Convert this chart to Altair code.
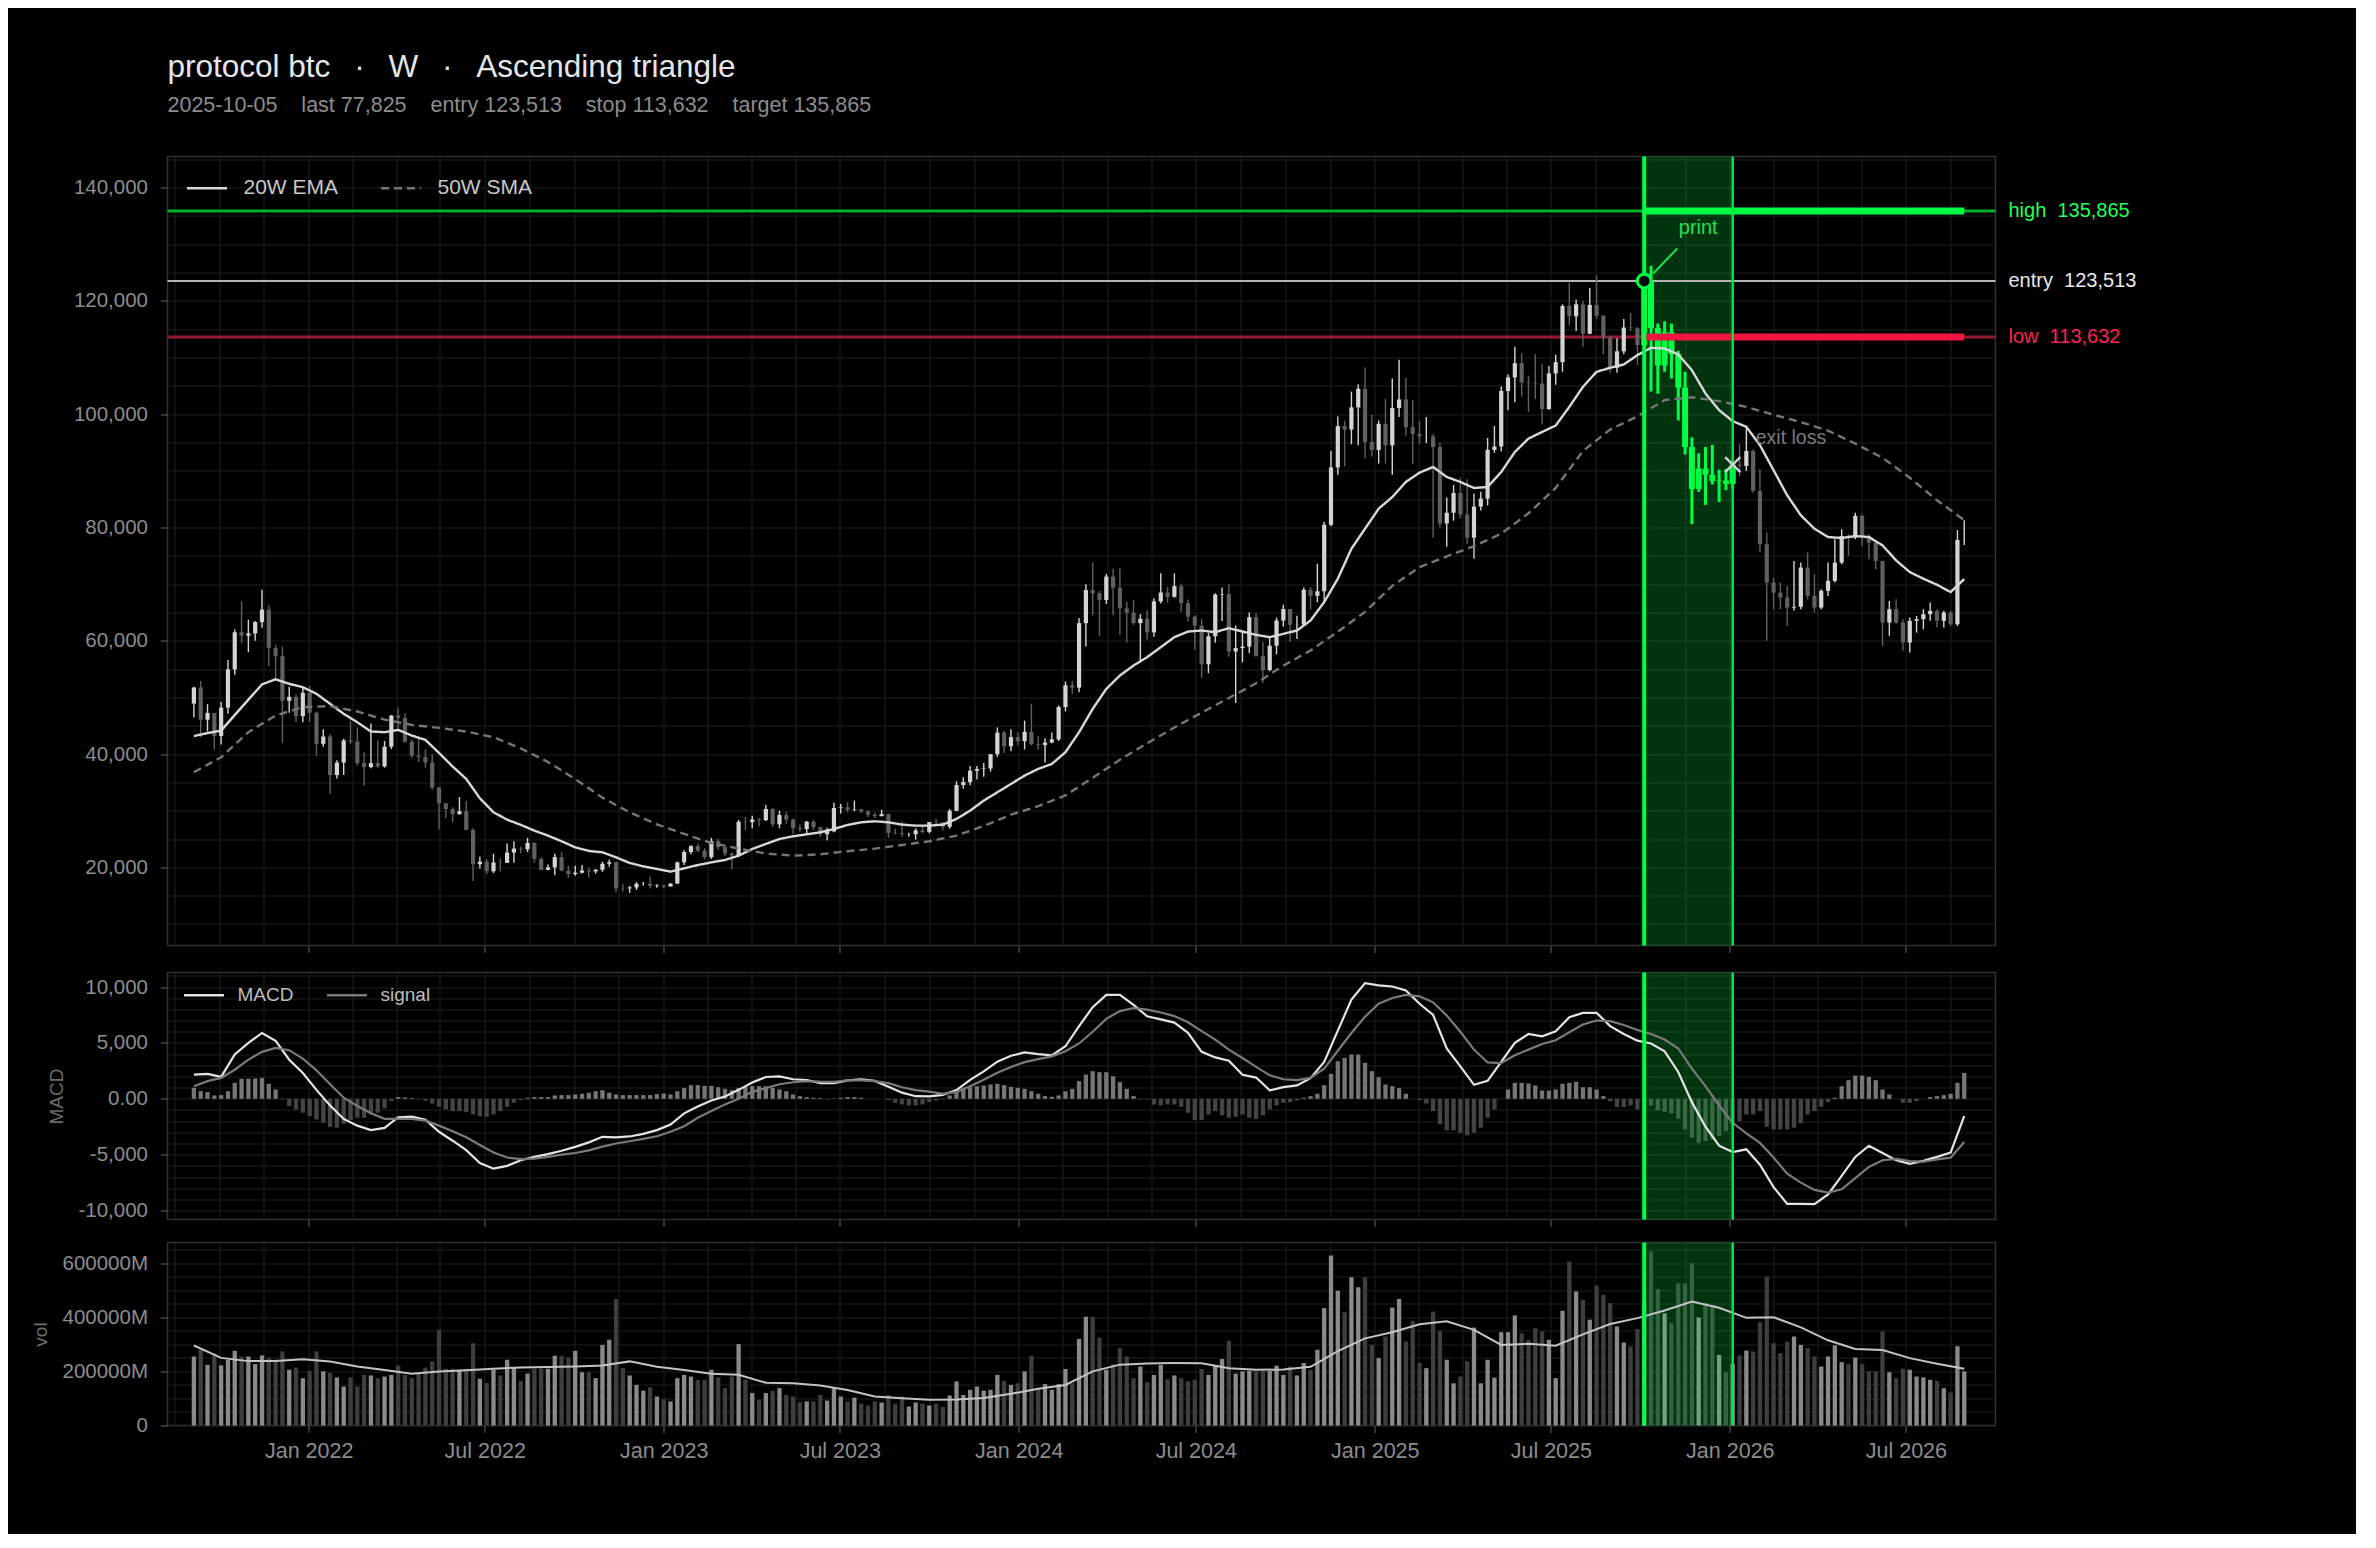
import altair as alt
import pandas as pd

FONT = "Liberation Sans"
W, H_MAIN, H_MACD, H_VOL = 1828, 789, 247, 183

# ---------------- data (weekly candles, week ending Sunday) ----------------
week_ends = pd.date_range("2021-09-05", periods=261, freq="7D").strftime("%Y-%m-%d").tolist()

first_open = 48900
closes = [
    51750, 46060, 47260, 43200, 48200, 54950, 61500, 60900, 61300, 63300,
    65500, 58700, 57270, 49400, 50100, 46700, 50800, 47300, 41800, 43100,
    36300, 38500, 42400, 42200, 38400, 37700, 38400, 37800, 41300, 46800,
    46400, 42200, 39700, 39500, 38500, 34100, 31300, 30300, 29400, 29900,
    26600, 20550, 21000, 19300, 20850, 20800, 22600, 23300, 23200, 24300,
    21500, 19550, 19990, 21800, 19400, 18800, 19050, 19450, 19270, 19570,
    20630, 20900, 16300, 16280, 16450, 17100, 17100, 16750, 16840, 16620,
    17130, 20880, 22710, 23740, 22930, 21800, 24640, 23560, 22430, 22130,
    28040, 27990, 28450, 28330, 30300, 27590, 29230, 28430, 26920, 26750,
    28070, 27110, 25850, 26340, 30480, 30590, 30170, 30250, 29870, 29280,
    29040, 29400, 26100, 26000, 25840, 25840, 26530, 26250, 27980, 27930,
    27150, 29990, 34530, 35050, 37060, 37360, 37450, 39970, 43780, 41370,
    42990, 42280, 43930, 41730, 41580, 42030, 42580, 48300, 52140, 51730,
    63110, 68950, 68390, 67210, 71330, 69360, 65740, 64940, 63120, 63890,
    61480, 66940, 68520, 67760, 69650, 66640, 64260, 62680, 55850, 60800,
    68160, 68250, 58120, 58710, 58970, 64160, 57300, 54840, 59130, 63580,
    65600, 62820, 62850, 69000, 67940, 68740, 80470, 90600, 97900, 97300,
    101200, 104500, 95100, 93700, 98300, 94500, 101100, 102600, 97700, 96500,
    96100, 96100, 94200, 80700, 82600, 86100, 82300, 78200, 83700, 85100,
    93700, 94300, 104100, 106500, 109000, 105600, 105500, 105400, 100900, 107200,
    109200, 119100, 117300, 119400, 114200, 119300, 117400, 113500, 108200, 111100,
    115300, 115200, 112200, 123513, 115200, 108600, 114500, 110600, 104700, 94200,
    86800, 90400, 89300, 88200, 88300, 87700, 91100, 90860, 93500, 86450,
    77030, 70270, 68500, 67630, 65860, 66000, 72920, 67920, 65860, 68810,
    70570, 73800, 78500, 78210, 82040, 78500, 77330, 74100, 63220, 65570,
    63220, 59690, 63520, 63810, 64690, 65280, 63520, 64980, 62920, 77800,
    77825,
]
highs = [
    51900, 52900, 48800, 47300, 49200, 56600, 62000, 67000, 63700, 63500,
    69000, 66300, 59300, 59000, 51900, 50500, 51800, 52000, 47500, 44400,
    43500, 38900, 42700, 45800, 44700, 40300, 45400, 42400, 42300, 46900,
    48200, 47200, 42500, 42900, 40800, 40000, 34200, 31400, 30600, 32400,
    31700, 26900, 21900, 21500, 22400, 21600, 24200, 24600, 23700, 25200,
    24500, 21800, 20500, 22400, 22700, 20300, 20300, 20400, 19900, 19700,
    21000, 21400, 21000, 17000, 16700, 17400, 17400, 18400, 17000, 16900,
    17200, 21000, 23000, 23900, 24200, 23400, 25200, 25000, 23900, 22600,
    28400, 28900, 29100, 28700, 31000, 30500, 30000, 29800, 28600, 27600,
    28200, 28400, 27200, 27000, 31400, 31200, 31500, 31800, 30300, 30100,
    29700, 30200, 29500, 26800, 28100, 26100, 26900, 27500, 28000, 28600,
    28000, 30300, 35200, 35900, 37900, 37900, 38400, 40000, 44700, 44100,
    44400, 43800, 45900, 48900, 43200, 42800, 43800, 48600, 52800, 52900,
    64000, 70000, 73800, 68800, 71800, 72700, 72800, 66900, 67200, 64700,
    65400, 67500, 71900, 69500, 71900, 70100, 67300, 64500, 63800, 61400,
    68400, 69400, 70000, 62700, 61800, 65000, 64900, 59800, 60600, 64100,
    66400, 65600, 64400, 69400, 69500, 73600, 81000, 93500, 99600, 98800,
    104000, 105300, 108300, 99900, 98900, 102700, 106300, 109600, 106400, 102500,
    98800, 99500, 96500, 95000, 85300, 87500, 88800, 88500, 86000, 86300,
    95800, 97900, 104900, 107000, 111900, 110700, 106800, 110600, 108900, 108500,
    110500, 119400, 123200, 120200, 120000, 122300, 124500, 117400, 113800, 113400,
    116800, 117900, 115400, 125700, 126200, 116000, 116400, 116000, 111200, 107500,
    95900, 93100, 94200, 94600, 90200, 90300, 91800, 94700, 97600, 93800,
    90270, 79100, 71160, 70270, 69690, 74100, 73800, 75570, 71750, 69100,
    73800, 77910, 79680, 78800, 82620, 82330, 78800, 77330, 74100, 67040,
    67330, 63810, 64100, 64400, 65570, 66750, 65570, 65280, 65280, 79550,
    81300,
]
lows = [
    46500, 43000, 44000, 40800, 41700, 47100, 54000, 59600, 58000, 60000,
    62300, 55600, 53300, 42000, 47300, 45600, 45600, 45700, 39700, 41300,
    33000, 35700, 36300, 41700, 38000, 34400, 37500, 37600, 37600, 40900,
    44200, 42000, 39300, 38600, 37600, 33700, 26700, 28700, 28000, 29300,
    26600, 17600, 19800, 18800, 19000, 19300, 20800, 20800, 22500, 22700,
    20800, 19550, 19500, 18600, 19300, 18150, 18500, 18900, 18200, 18900,
    19200, 20100, 15600, 15800, 15500, 16000, 16800, 16300, 16400, 16300,
    16600, 17100, 20400, 22300, 22700, 21400, 21500, 23100, 22000, 19600,
    21800, 26600, 26900, 27200, 28200, 27100, 26900, 27700, 25900, 26300,
    25900, 26600, 25400, 24800, 26200, 29500, 29700, 29900, 29600, 28900,
    28700, 29000, 25200, 25800, 25400, 25400, 24900, 26000, 26000, 27300,
    26500, 26800, 29900, 33900, 34500, 35500, 36000, 36900, 39500, 40200,
    40500, 41500, 40800, 41500, 40800, 38500, 41900, 42300, 47500, 50600,
    50900, 59000, 64500, 60800, 66500, 64500, 61000, 59700, 62800, 56500,
    60200, 60700, 66600, 66700, 67600, 65100, 63400, 58400, 53500, 54300,
    59700, 63500, 57200, 49000, 56200, 57800, 57200, 52600, 54600, 57600,
    62500, 59800, 60300, 62600, 65500, 66800, 66900, 80200, 89300, 90800,
    94700, 94500, 92200, 92500, 91300, 91300, 89300, 99500, 96200, 91200,
    94800, 94900, 78200, 80000, 76600, 81200, 81600, 77100, 74500, 83000,
    83900, 93200, 93400, 100700, 102100, 103100, 100400, 102700, 98200, 100800,
    105200, 107500, 115700, 114700, 111900, 114100, 116800, 110600, 107300, 107300,
    110600, 114700, 108700, 112000, 104000, 103600, 107500, 106300, 98900, 92900,
    80600, 86300, 84000, 87600, 84500, 86600, 86900, 89100, 90000, 86150,
    75570, 59990, 65570, 65570, 62640, 65280, 65570, 67330, 64980, 65570,
    67920, 70270, 73500, 74990, 77910, 76740, 74390, 72620, 59100, 60870,
    63000, 58220, 57930, 61450, 62040, 63520, 62340, 62340, 62640, 62600,
    76900,
]
volumes_m = [
    255000, 280000, 224000, 267000, 222000, 243000, 276000, 255000, 255000, 227000,
    259000, 249000, 243000, 274000, 206000, 214000, 175000, 202000, 274000, 200000,
    194000, 178000, 144000, 178000, 144000, 187000, 185000, 175000, 181000, 187000,
    222000, 187000, 175000, 194000, 214000, 237000, 354000, 210000, 210000, 206000,
    210000, 304000, 173000, 157000, 206000, 185000, 243000, 216000, 165000, 192000,
    210000, 210000, 210000, 258000, 258000, 251000, 276000, 197000, 197000, 175000,
    298000, 317000, 468000, 212000, 185000, 150000, 129000, 141000, 107000, 97000,
    89000, 175000, 187000, 181000, 169000, 169000, 206000, 178000, 138000, 181000,
    301000, 169000, 120000, 95000, 120000, 128000, 138000, 113000, 107000, 86000,
    89000, 89000, 113000, 92000, 138000, 107000, 89000, 103000, 81000, 74000,
    89000, 85000, 113000, 81000, 107000, 70000, 85000, 81000, 74000, 80000,
    70000, 111000, 163000, 113000, 132000, 144000, 129000, 132000, 187000, 165000,
    150000, 156000, 200000, 258000, 138000, 153000, 132000, 153000, 209000, 156000,
    320000, 402000, 402000, 325000, 206000, 227000, 286000, 255000, 175000, 218000,
    160000, 187000, 224000, 171000, 185000, 175000, 163000, 169000, 209000, 187000,
    224000, 246000, 313000, 192000, 200000, 202000, 200000, 202000, 202000, 221000,
    187000, 218000, 185000, 231000, 206000, 280000, 434000, 628000, 498000, 419000,
    548000, 511000, 548000, 298000, 249000, 329000, 436000, 468000, 310000, 387000,
    231000, 212000, 421000, 350000, 243000, 156000, 181000, 237000, 362000, 156000,
    243000, 177000, 345000, 345000, 407000, 341000, 317000, 360000, 348000, 317000,
    175000, 424000, 606000, 495000, 465000, 391000, 518000, 483000, 452000, 366000,
    307000, 292000, 357000, 452000, 643000, 505000, 415000, 378000, 526000, 526000,
    600000, 399000, 452000, 446000, 261000, 197000, 228000, 259000, 277000, 274000,
    382000, 551000, 304000, 267000, 310000, 329000, 298000, 286000, 255000, 218000,
    255000, 296000, 234000, 227000, 251000, 227000, 200000, 200000, 348000, 197000,
    175000, 210000, 206000, 181000, 178000, 169000, 165000, 138000, 122000, 293000,
    200000,
]
macd_hist = [
    980, 680, 600, 300, 330, 680, 1430, 1790, 1790, 1820,
    1870, 1340, 830, -60, -650, -950, -1250, -1550, -1850, -2140,
    -2530, -2590, -2230, -1900, -1700, -1700, -1400, -1250, -860, -210,
    150, 120, 60, -60, -180, -420, -710, -950, -1100, -1100,
    -1190, -1400, -1550, -1610, -1400, -1100, -710, -360, -120, 90,
    150, 150, 150, 300, 330, 330, 390, 450, 540, 680,
    770, 540, 390, 330, 330, 330, 330, 330, 420, 480,
    390, 680, 980, 1220, 1220, 1160, 1160, 1040, 890, 770,
    980, 1070, 1130, 1130, 1130, 980, 830, 680, 390, 240,
    150, 90, 60, -60, 30, 90, 150, 150, 90, 0,
    0, 0, -120, -360, -510, -600, -600, -510, -300, -150,
    -60, 300, 680, 980, 1040, 1130, 1190, 1280, 1340, 1220,
    1070, 980, 890, 680, 450, 240, 180, 300, 680, 890,
    1580, 2170, 2470, 2380, 2380, 2020, 1490, 890, 240, -60,
    -60, -510, -600, -510, -510, -710, -1250, -1900, -1900, -1400,
    -1100, -1490, -1700, -1610, -1400, -1700, -1790, -1490, -950, -600,
    -360, -300, -150, 90, 240, 450, 1220, 2230, 3360, 3660,
    3960, 3960, 3210, 2470, 1930, 1280, 1130, 950, 450, 0,
    -120, -420, -1100, -2290, -2830, -2830, -3040, -3270, -3040, -2590,
    -1700, -950, 0, 830, 1430, 1430, 1370, 1190, 740, 740,
    830, 1340, 1430, 1520, 1040, 1040, 830, 240, -210, -740,
    -740, -600, -950, -400, -600, -1040, -1160, -1310, -1790, -2740,
    -3480, -3930, -3780, -3630, -3330, -2890, -2380, -1990, -1400, -1400,
    -1100, -2500, -2740, -2740, -2740, -2590, -2200, -1400, -1100, -710,
    -300, 90, 1130, 1670, 2080, 2080, 1960, 1670, 830, 390,
    0, -360, -360, -210, 0, 150, 240, 330, 450, 1430,
    2320,
]
# overlays read every 2 weeks (EMA, MACD, signal) and every 4 weeks (SMA, volume average)
ema20 = [
    43180, 43700, 44150, 46900, 49600, 52300, 53200, 52400, 51800, 50640,
    48870, 47100, 45620, 43980, 43860, 44270, 43270, 42500, 40200, 37800,
    35600, 32200, 29720, 28420, 27500, 26480, 25600, 24600, 23530, 22890,
    22650, 21770, 20770, 20180, 19710, 19240, 19830, 20400, 20880, 21300,
    22060, 23240, 24130, 25000, 25480, 25830, 26180, 26770, 27480, 27950,
    28130, 27950, 27540, 27360, 27360, 27540, 28540, 30010, 31780, 33250,
    34720, 36200, 37380, 38260, 40320, 43860, 47980, 51510, 53870, 55630,
    57110, 58870, 60640, 61630, 61810, 61520, 62230, 61630, 61040, 60640,
    61220, 61810, 63580, 66830, 70960, 76250, 79790, 83320, 85380, 88040,
    89680, 90680, 88920, 88040, 86970, 87150, 89800, 93330, 95690, 96870,
    98000, 101300, 104830, 107480, 108190, 108780, 110430, 111720, 111610, 110550,
    107780, 103660, 100710, 98770, 97770, 94530, 90110, 85690, 82150, 79790,
    78310, 78140, 78490, 78310, 76840, 74190, 72130, 70950, 69890, 68590,
    70900,
]
macd_line = [
    2170, 2230, 1960, 3960, 5000, 5890, 5180, 3500, 2300, 800,
    -600, -1800, -2400, -2800, -2600, -1650, -1600, -1870, -2950, -3750,
    -4600, -5750, -6250, -6000, -5500, -5200, -4950, -4650, -4300, -3900,
    -3400, -3450, -3370, -3140, -2800, -2300, -1300, -700, -150, 200,
    800, 1450, 1950, 2000, 1750, 1680, 1400, 1400, 1650, 1730,
    1600, 1070, 550, 230, 220, 350, 780, 1700, 2450, 3320,
    3850, 4150, 4000, 3880, 4700, 6500, 8200, 9300, 9300, 8400,
    7380, 7100, 6820, 5900, 4200, 3700, 3400, 2150, 1900, 750,
    1050, 1200, 1850, 3300, 6100, 8870, 10350, 10150, 10050, 9700,
    8500, 7500, 4500, 2900, 1250, 1600, 3300, 5000, 5800, 5590,
    6040, 7300, 7680, 7700, 6500, 5800, 5200, 4950, 4250, 2400,
    -300, -2500, -4200, -4760, -4520, -5900, -7900, -9400, -9400, -9430,
    -8550, -6900, -5200, -4200, -4850, -5500, -5820, -5550, -5200, -4820,
    -1550,
]
signal_line = [
    1130, 1580, 1870, 2600, 3500, 4200, 4550, 4350, 3600, 2550,
    1300, 100, -650, -1300, -1790, -1790, -1790, -1950, -2400, -2900,
    -3450, -4130, -4800, -5250, -5400, -5350, -5200, -5000, -4850, -4610,
    -4280, -4000, -3800, -3580, -3350, -2950, -2450, -1700, -1100, -500,
    0, 620, 950, 1300, 1480, 1570, 1530, 1520, 1660, 1650,
    1580, 1400, 1030, 780, 640, 450, 620, 1120, 1700, 2330,
    2850, 3280, 3550, 3800, 4250, 4950, 6000, 7150, 7850, 8120,
    7980, 7720, 7400, 6850, 6050, 5300, 4400, 3650, 2860, 2100,
    1750, 1670, 1870, 2700, 4300, 5890, 7350, 8500, 9020, 9300,
    9170, 8630, 7450, 6000, 4400, 3250, 3200, 3900, 4400, 4900,
    5240, 5950, 6650, 7000, 6950, 6600, 6150, 5800, 5300, 4500,
    2700, 1130, -600, -2150, -3100, -3950, -5250, -6700, -7500, -8150,
    -8390, -8100, -7100, -6100, -5500, -5370, -5570, -5630, -5420, -5270,
    -3870,
]
sma50 = [
    36790, 39440, 43860, 46800, 48280, 48460, 47510, 46090, 45150, 44620,
    43980, 42970, 41000, 38600, 35600, 32300, 29700, 27600, 25900, 24300,
    23300, 22450, 22060, 22300, 22850, 23300, 23950, 24600, 25600, 27300,
    29300, 30800, 32700, 35800, 39000, 41900, 44700, 47300, 49900, 52500,
    55600, 58300, 61600, 65100, 69700, 73000, 74900, 76700, 78900, 82500,
    87000, 93500, 97300, 99600, 102500, 103000, 102300, 101300, 99900, 98600,
    97100, 94800, 92300, 88800, 84800, 81300,
]
vol_avg_m = [
    295800, 250000, 238000, 238000, 245000, 236600, 218000, 205000, 191000, 199600,
    204000, 209500, 214400, 216000, 218100, 222000, 237000, 217000, 205000, 191000,
    187300, 158000, 156500, 148000, 131000, 107200, 101000, 94900, 96000, 102000,
    117000, 136000, 150000, 200000, 225000, 229000, 230600, 230000, 212000, 206000,
    207000, 217000, 275000, 322000, 345000, 374000, 385000, 353700, 298000, 302000,
    295000, 337000, 375000, 397000, 425000, 458000, 435000, 398000, 400000, 363000,
    315000, 283000, 279000, 249000, 228000, 209500,
]

entry_idx, exit_idx = 213, 226
target_price, entry_price, stop_price = 135865, 123513, 113632
exit_price = 91100

n = len(week_ends)
for arr in (closes, highs, lows, volumes_m, macd_hist):
    assert len(arr) == n, len(arr)
assert len(ema20) == len(week_ends[::2]) == len(macd_line) == len(signal_line)
assert len(sma50) == len(week_ends[::4]) == len(vol_avg_m)

opens = [first_open] + closes[:-1]
candles = pd.DataFrame({
    "date": week_ends, "open": opens, "high": highs, "low": lows, "close": closes,
    "volume": volumes_m, "hist": macd_hist,
})
candles["up"] = candles["close"] >= candles["open"]
candles["trade"] = [entry_idx <= i <= exit_idx for i in range(n)]

every2 = week_ends[::2]
every4 = week_ends[::4]
main_lines = pd.DataFrame({
    "date": every2 + every4,
    "value": ema20 + sma50,
    "series": ["20W EMA"] * len(ema20) + ["50W SMA"] * len(sma50),
})
macd_lines = pd.DataFrame({
    "date": every2 + every2,
    "value": macd_line + signal_line,
    "series": ["MACD"] * len(macd_line) + ["signal"] * len(signal_line),
})
vol_avg = pd.DataFrame({"date": every4, "value": vol_avg_m})
trade = pd.DataFrame({
    "start": [week_ends[entry_idx]], "end": [week_ends[exit_idx]], "last": [week_ends[-1]],
    "entry": [entry_price], "exit": [exit_price],
})

# ---------------- styling ----------------
GREEN = "#00ff44"
UP, DN = "#d4d4d4", "#606060"
VUP, VDN = "#8a8a8a", "#3e3e3e"
HPOS, HNEG = "#767676", "#444444"
GRID, FRAME, TICK, LABEL = "#1f1f1f", "#303030", "#555555", "#8c8c8c"
NB = "\u00a0"
GAP = NB + NB + "\u2009"

x_domain = [alt.DateTime(year=2021, month=8, date=14, utc=True),
            alt.DateTime(year=2026, month=9, date=26, utc=True)]
x_scale = alt.Scale(type="utc", domain=x_domain)
lo, hi = pd.Timestamp("2021-08-14"), pd.Timestamp("2026-09-26")
grid_dates = []
for yr in range(2021, 2027):
    for m, d in [(1, 1), (2, 15), (4, 1), (5, 16), (7, 1), (8, 16), (10, 1), (11, 16)]:
        if lo < pd.Timestamp(year=yr, month=m, day=d) < hi:
            grid_dates.append(alt.DateTime(year=yr, month=m, date=d, utc=True))
MAJOR = "utcmonth(datum.value) % 6 == 0 && utcdate(datum.value) == 1"


def x_axis(labels):
    return alt.Axis(
        values=grid_dates, grid=True, gridColor=GRID, gridWidth=1, domain=False,
        ticks=True, tickSize=7, tickWidth=1.2,
        tickColor={"condition": {"test": MAJOR, "value": TICK}, "value": "transparent"},
        labels=labels, labelExpr=f"({MAJOR}) ? utcFormat(datum.value, '%b %Y') : ''",
        labelOverlap=False, labelFlush=False, labelFontSize=21.5, labelColor=LABEL,
        labelFont=FONT, labelPadding=8, title=None,
    )


def y_axis(values, major_test, label_expr, title=None, title_x=0, title_y=0):
    kw = dict(
        values=values, grid=True, gridColor=GRID, gridWidth=1, domain=False,
        tickSize=7, tickWidth=1.2,
        tickColor={"condition": {"test": major_test, "value": TICK}, "value": "transparent"},
        labelExpr=label_expr, labelOverlap=False, labelFontSize=20.5, labelColor=LABEL,
        labelFont=FONT, labelPadding=13,
    )
    if title:
        kw.update(title=title, titleX=title_x, titleY=title_y, titleAngle=270,
                  titleAlign="center", titleBaseline="middle", titleFontSize=19,
                  titleColor="#6c6c6c", titleFont=FONT, titleFontWeight="normal")
    else:
        kw.update(title=None)
    return alt.Axis(**kw)


ax_main_x, ax_macd_x, ax_vol_x = x_axis(False), x_axis(False), x_axis(True)
ax_main_y = y_axis(list(range(10000, 145001, 5000)), "datum.value % 20000 == 0",
                   "datum.value % 20000 == 0 ? format(datum.value, ',') : ''")
ax_macd_y = y_axis(list(range(-10000, 11001, 1000)), "datum.value % 5000 == 0",
                   "datum.value % 5000 == 0 ? (datum.value == 0 ? '0.00' : (datum.value < 0 ? '-' : '') + format(abs(datum.value), ',')) : ''",
                   title="MACD", title_x=-111, title_y=H_MACD / 2)
ax_vol_y = y_axis(list(range(0, 650001, 50000)), "datum.value % 200000 == 0",
                  "datum.value == 0 ? '0' : (datum.value % 200000 == 0 ? datum.value + 'M' : '')",
                  title="vol", title_x=-127, title_y=H_VOL / 2)

s_main = alt.Scale(domain=[6200, 145500], nice=False, zero=False)
s_macd = alt.Scale(domain=[-10800, 11300], nice=False, zero=False)
s_vol = alt.Scale(domain=[0, 676500], nice=False, zero=False)


def X(field, ax):
    return alt.X(field, type="temporal", scale=x_scale, axis=ax)


def Y(field, scale, ax):
    return alt.Y(field, type="quantitative", scale=scale, axis=ax)


# ---------------- main price panel ----------------
cndl = alt.Chart(candles)
tr = alt.Chart(trade)
layers = []
layers.append(tr.mark_rect(color=GREEN, opacity=0.2).encode(
    x=X("start", ax_main_x), x2="end:T"))
for lvl, col, wdt in [(target_price, "#00b02c", 3), (entry_price, "#b4b4b4", 2), (stop_price, "#941a33", 3)]:
    layers.append(alt.Chart(pd.DataFrame({"level": [lvl]})).mark_rule(color=col, strokeWidth=wdt).encode(
        y=Y("level", s_main, ax_main_y)))
ud = alt.condition("datum.up", alt.value(UP), alt.value(DN))
layers.append(cndl.transform_filter("!datum.trade").mark_rule(strokeWidth=1.4).encode(
    x=X("date", ax_main_x), y=Y("low", s_main, ax_main_y), y2="high:Q", color=ud))
layers.append(cndl.transform_filter("!datum.trade").mark_bar(width=4.2).encode(
    x=X("date", ax_main_x), y=Y("open", s_main, ax_main_y), y2="close:Q", color=ud))
layers.append(cndl.transform_filter("datum.trade").mark_rule(strokeWidth=3, color=GREEN).encode(
    x=X("date", ax_main_x), y=Y("low", s_main, ax_main_y), y2="high:Q"))
layers.append(cndl.transform_filter("datum.trade").mark_bar(width=6, color=GREEN).encode(
    x=X("date", ax_main_x), y=Y("open", s_main, ax_main_y), y2="close:Q"))
leg_main = alt.Legend(title=None, orient="none", legendX=18, legendY=10, direction="horizontal",
                      symbolType="stroke", symbolSize=1600, symbolStrokeWidth=2.5,
                      labelFontSize=21, labelColor="#c8c8c8", labelFont=FONT,
                      labelOffset=15, columnPadding=37, padding=0)
main_dom = ["20W EMA", "50W SMA"]
layers.append(alt.Chart(main_lines).mark_line(strokeWidth=2.4).encode(
    x=X("date", ax_main_x), y=Y("value", s_main, ax_main_y),
    color=alt.Color("series:N", scale=alt.Scale(domain=main_dom, range=["#d8d8d8", "#767676"]), legend=leg_main),
    strokeDash=alt.StrokeDash("series:N", scale=alt.Scale(domain=main_dom, range=[[1, 0], [8, 5]]), legend=leg_main),
))
for lvl, col in [(target_price, GREEN), (stop_price, "#f0163f")]:
    seg = trade.assign(level=lvl)
    layers.append(alt.Chart(seg).mark_rule(color=col, strokeWidth=7).encode(
        x=X("start", ax_main_x), x2="last:T", y=Y("level", s_main, ax_main_y)))
layers.append(tr.mark_rule(color=GREEN, strokeWidth=4).encode(x=X("start", ax_main_x)))
layers.append(tr.mark_rule(color="#00e63e", strokeWidth=2.5).encode(x=X("end", ax_main_x)))
layers.append(tr.mark_rule(color="#1fe04f", strokeWidth=2, xOffset=9, yOffset=-7.5, x2Offset=33, y2Offset=-32.5).encode(
    x=X("start", ax_main_x), x2="start:T", y=Y("entry", s_main, ax_main_y), y2="entry:Q"))
layers.append(tr.mark_point(shape="circle", size=190, filled=True, fill="#000000", stroke=GREEN,
                            strokeWidth=3, opacity=1).encode(
    x=X("start", ax_main_x), y=Y("entry", s_main, ax_main_y)))
layers.append(tr.mark_text(text="print", align="center", baseline="middle", dx=54, dy=-53,
                           fontSize=20, font=FONT, color="#22e052").encode(
    x=X("start", ax_main_x), y=Y("entry", s_main, ax_main_y)))
layers.append(tr.mark_point(shape="M-1,-1L1,1M-1,1L1,-1", size=230, filled=False, color="#d0d0d0",
                            strokeWidth=2.5, opacity=1).encode(
    x=X("end", ax_main_x), y=Y("exit", s_main, ax_main_y)))
layers.append(tr.mark_text(text="exit loss", align="left", baseline="middle", dx=23, dy=-27,
                           fontSize=19.5, font=FONT, color="#7a7a7a").encode(
    x=X("end", ax_main_x), y=Y("exit", s_main, ax_main_y)))
for lvl, txt, col in [(target_price, f"high{NB}{NB}135,865", "#22ff55"),
                      (entry_price, f"entry{NB}{NB}123,513", "#e8e8e8"),
                      (stop_price, f"low{NB}{NB}113,632", "#ff2050")]:
    layers.append(alt.Chart(pd.DataFrame({"level": [lvl]})).mark_text(
        text=txt, align="left", baseline="middle", fontSize=20, font=FONT, color=col).encode(
        x=alt.value(W + 13), y=Y("level", s_main, ax_main_y)))

title = alt.TitleParams(
    text=f"protocol btc{GAP}·{GAP}W{GAP}·{GAP}Ascending triangle",
    subtitle=f"2025-10-05{NB*4}last 77,825{NB*4}entry 123,513{NB*4}stop 113,632{NB*4}target 135,865",
    anchor="start", frame="group", fontSize=31.5, fontWeight="normal", color="#e6e6e6", font=FONT,
    subtitleFont=FONT, subtitleFontSize=21.5, subtitleColor="#8c8c8c", subtitlePadding=12, offset=32.5,
)
main = alt.layer(*layers).properties(width=W, height=H_MAIN, title=title)

# ---------------- MACD panel ----------------
leg_macd = alt.Legend(title=None, orient="none", legendX=15, legendY=1, direction="horizontal",
                      symbolType="stroke", symbolSize=1600, symbolStrokeWidth=2.5,
                      labelFontSize=19, labelColor="#bdbdbd", labelFont=FONT,
                      labelOffset=12, columnPadding=28, padding=0)
macd_c = alt.layer(
    cndl.mark_bar(width=4.3).encode(
        x=X("date", ax_macd_x), y=Y("hist", s_macd, ax_macd_y),
        color=alt.condition("datum.hist >= 0", alt.value(HPOS), alt.value(HNEG))),
    tr.mark_rect(color=GREEN, opacity=0.2).encode(x=X("start", ax_macd_x), x2="end:T"),
    alt.Chart(macd_lines).mark_line(strokeWidth=2.2).encode(
        x=X("date", ax_macd_x), y=Y("value", s_macd, ax_macd_y),
        color=alt.Color("series:N", scale=alt.Scale(domain=["MACD", "signal"], range=["#e4e4e4", "#7a7a7a"]),
                        legend=leg_macd)),
    tr.mark_rule(color=GREEN, strokeWidth=4).encode(x=X("start", ax_macd_x)),
    tr.mark_rule(color="#00e63e", strokeWidth=2.5).encode(x=X("end", ax_macd_x)),
).properties(width=W, height=H_MACD)

# ---------------- volume panel ----------------
vol_c = alt.layer(
    cndl.mark_bar(width=4.3).encode(
        x=X("date", ax_vol_x), y=Y("volume", s_vol, ax_vol_y),
        color=alt.condition("datum.up", alt.value(VUP), alt.value(VDN))),
    tr.mark_rect(color=GREEN, opacity=0.2).encode(x=X("start", ax_vol_x), x2="end:T"),
    alt.Chart(vol_avg).mark_line(strokeWidth=2, color="#c4c4c4").encode(
        x=X("date", ax_vol_x), y=Y("value", s_vol, ax_vol_y)),
    tr.mark_rule(color=GREEN, strokeWidth=4).encode(x=X("start", ax_vol_x)),
    tr.mark_rule(color="#00e63e", strokeWidth=2.5).encode(x=X("end", ax_vol_x)),
).properties(width=W, height=H_VOL)

chart = (
    alt.vconcat(main, macd_c, vol_c, spacing=10)
    .resolve_scale(color="independent", strokeDash="independent")
    .resolve_legend(color="independent", strokeDash="independent")
    .properties(padding={"left": 22.5, "top": 42.5, "right": 218, "bottom": 70}, background="#000000")
    .configure(font=FONT)
    .configure_view(stroke=FRAME, strokeWidth=1.5)
)
chart.save("out.html", embed_options={"renderer": "svg", "actions": False})
